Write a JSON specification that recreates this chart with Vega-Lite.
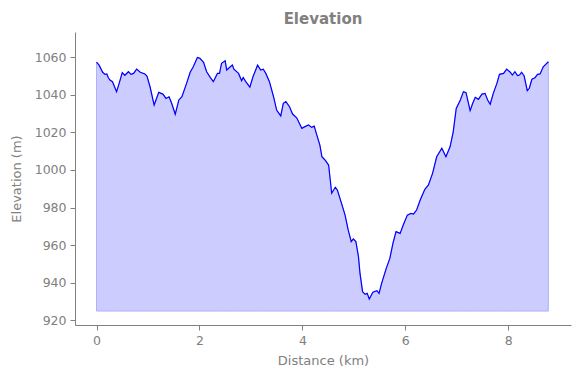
{
  "$schema": "https://vega.github.io/schema/vega-lite/v6.json",
  "width": 496,
  "height": 293,
  "autosize": "none",
  "padding": {"left": 75, "top": 32, "right": 9, "bottom": 53},
  "background": "white",
  "title": {"text": "Elevation", "fontSize": 15, "fontWeight": "bold", "color": "#808080", "font": "DejaVu Sans", "anchor": "middle", "offset": 5},
  "config": {
    "view": {"stroke": null},
    "axis": {"grid": false, "domainColor": "#808080", "tickColor": "#808080", "labelColor": "#808080", "titleColor": "#808080", "labelFont": "DejaVu Sans", "titleFont": "DejaVu Sans", "labelFontSize": 12.5, "titleFontSize": 13, "titleFontWeight": "normal", "tickSize": 5, "labelPadding": 4}
  },
  "data": {"values": [
    {"d": 0.0, "e": 1057.3}, {"d": 0.05, "e": 1055.7}, {"d": 0.12, "e": 1051.9}, {"d": 0.165, "e": 1050.8}, {"d": 0.2, "e": 1051.0},
    {"d": 0.23, "e": 1049.0}, {"d": 0.26, "e": 1047.8}, {"d": 0.31, "e": 1046.9}, {"d": 0.39, "e": 1041.6}, {"d": 0.44, "e": 1046.0},
    {"d": 0.5, "e": 1051.7}, {"d": 0.55, "e": 1050.3}, {"d": 0.62, "e": 1052.2}, {"d": 0.67, "e": 1050.8}, {"d": 0.72, "e": 1051.3},
    {"d": 0.78, "e": 1053.6}, {"d": 0.85, "e": 1051.9}, {"d": 0.94, "e": 1051.0}, {"d": 0.98, "e": 1049.9}, {"d": 1.04, "e": 1044.2},
    {"d": 1.12, "e": 1034.5}, {"d": 1.21, "e": 1041.2}, {"d": 1.29, "e": 1040.3}, {"d": 1.35, "e": 1038.0}, {"d": 1.41, "e": 1038.9},
    {"d": 1.46, "e": 1035.4}, {"d": 1.53, "e": 1029.6}, {"d": 1.6, "e": 1037.2}, {"d": 1.66, "e": 1038.9}, {"d": 1.75, "e": 1046.0},
    {"d": 1.82, "e": 1051.9}, {"d": 1.88, "e": 1054.8}, {"d": 1.96, "e": 1059.8}, {"d": 2.01, "e": 1059.3}, {"d": 2.08, "e": 1057.2},
    {"d": 2.14, "e": 1052.2}, {"d": 2.21, "e": 1049.2}, {"d": 2.27, "e": 1046.9}, {"d": 2.35, "e": 1051.3}, {"d": 2.39, "e": 1051.3},
    {"d": 2.43, "e": 1056.7}, {"d": 2.5, "e": 1058.0}, {"d": 2.53, "e": 1053.1}, {"d": 2.6, "e": 1054.8}, {"d": 2.64, "e": 1055.7},
    {"d": 2.67, "e": 1053.5}, {"d": 2.76, "e": 1051.3}, {"d": 2.82, "e": 1047.4}, {"d": 2.85, "e": 1049.1}, {"d": 2.9, "e": 1046.9},
    {"d": 2.98, "e": 1044.0}, {"d": 3.04, "e": 1049.5}, {"d": 3.08, "e": 1052.2}, {"d": 3.13, "e": 1055.7}, {"d": 3.19, "e": 1053.1},
    {"d": 3.24, "e": 1053.5}, {"d": 3.29, "e": 1051.3}, {"d": 3.36, "e": 1046.9}, {"d": 3.44, "e": 1038.9}, {"d": 3.5, "e": 1031.8},
    {"d": 3.58, "e": 1028.7}, {"d": 3.63, "e": 1035.4}, {"d": 3.68, "e": 1036.3}, {"d": 3.75, "e": 1033.6}, {"d": 3.81, "e": 1029.7},
    {"d": 3.89, "e": 1027.7}, {"d": 3.99, "e": 1022.1}, {"d": 4.05, "e": 1023.0}, {"d": 4.12, "e": 1023.9}, {"d": 4.18, "e": 1022.6},
    {"d": 4.23, "e": 1023.3}, {"d": 4.28, "e": 1018.6}, {"d": 4.34, "e": 1013.2}, {"d": 4.38, "e": 1007.0}, {"d": 4.44, "e": 1005.3},
    {"d": 4.51, "e": 1002.6}, {"d": 4.57, "e": 987.6}, {"d": 4.64, "e": 990.8}, {"d": 4.68, "e": 989.3}, {"d": 4.77, "e": 981.4},
    {"d": 4.83, "e": 976.0}, {"d": 4.89, "e": 968.1}, {"d": 4.95, "e": 961.9}, {"d": 4.99, "e": 963.3}, {"d": 5.04, "e": 961.9},
    {"d": 5.09, "e": 953.9}, {"d": 5.12, "e": 945.0}, {"d": 5.17, "e": 935.3}, {"d": 5.22, "e": 933.9}, {"d": 5.26, "e": 934.4},
    {"d": 5.3, "e": 931.4}, {"d": 5.37, "e": 935.0}, {"d": 5.45, "e": 935.8}, {"d": 5.49, "e": 934.4}, {"d": 5.54, "e": 939.7},
    {"d": 5.63, "e": 947.7}, {"d": 5.7, "e": 953.0}, {"d": 5.76, "e": 961.0}, {"d": 5.82, "e": 967.2}, {"d": 5.9, "e": 966.3},
    {"d": 5.96, "e": 970.7}, {"d": 6.04, "e": 976.0}, {"d": 6.11, "e": 976.9}, {"d": 6.16, "e": 976.6}, {"d": 6.22, "e": 978.7},
    {"d": 6.29, "e": 984.0}, {"d": 6.38, "e": 989.7}, {"d": 6.45, "e": 992.0}, {"d": 6.53, "e": 998.2}, {"d": 6.61, "e": 1007.0},
    {"d": 6.71, "e": 1011.5}, {"d": 6.79, "e": 1007.0}, {"d": 6.87, "e": 1012.3}, {"d": 6.93, "e": 1020.0}, {"d": 6.99, "e": 1032.7},
    {"d": 7.07, "e": 1037.2}, {"d": 7.13, "e": 1041.6}, {"d": 7.18, "e": 1041.1}, {"d": 7.26, "e": 1031.5}, {"d": 7.31, "e": 1035.4},
    {"d": 7.36, "e": 1038.6}, {"d": 7.42, "e": 1037.5}, {"d": 7.49, "e": 1040.3}, {"d": 7.55, "e": 1040.7}, {"d": 7.6, "e": 1037.2},
    {"d": 7.65, "e": 1034.9}, {"d": 7.71, "e": 1040.7}, {"d": 7.78, "e": 1046.0}, {"d": 7.83, "e": 1050.8}, {"d": 7.91, "e": 1051.3},
    {"d": 7.97, "e": 1053.6}, {"d": 8.04, "e": 1051.9}, {"d": 8.08, "e": 1050.4}, {"d": 8.13, "e": 1052.2}, {"d": 8.18, "e": 1050.1},
    {"d": 8.22, "e": 1050.4}, {"d": 8.26, "e": 1051.9}, {"d": 8.31, "e": 1049.9}, {"d": 8.37, "e": 1042.1}, {"d": 8.41, "e": 1043.4},
    {"d": 8.46, "e": 1048.2}, {"d": 8.52, "e": 1049.0}, {"d": 8.57, "e": 1050.8}, {"d": 8.62, "e": 1051.0}, {"d": 8.68, "e": 1054.8},
    {"d": 8.78, "e": 1057.5}
  ]},
  "encoding": {
    "x": {"field": "d", "type": "quantitative", "title": "Distance (km)", "scale": {"domain": [-0.418, 9.22], "nice": false, "zero": false}, "axis": {"values": [0, 2, 4, 6, 8], "titlePadding": 8}},
    "y": {"field": "e", "type": "quantitative", "title": "Elevation (m)", "scale": {"domain": [917.6, 1073.3], "nice": false, "zero": false}, "axis": {"values": [920, 940, 960, 980, 1000, 1020, 1040, 1060], "format": "d", "titlePadding": 11}}
  },
  "layer": [
    {"mark": {"type": "area", "fill": "#ccccff", "stroke": "#b0b0ff", "strokeWidth": 1}, "encoding": {"y2": {"datum": 925}}},
    {"mark": {"type": "line", "stroke": "#0000ff", "strokeWidth": 1.2}}
  ]
}
